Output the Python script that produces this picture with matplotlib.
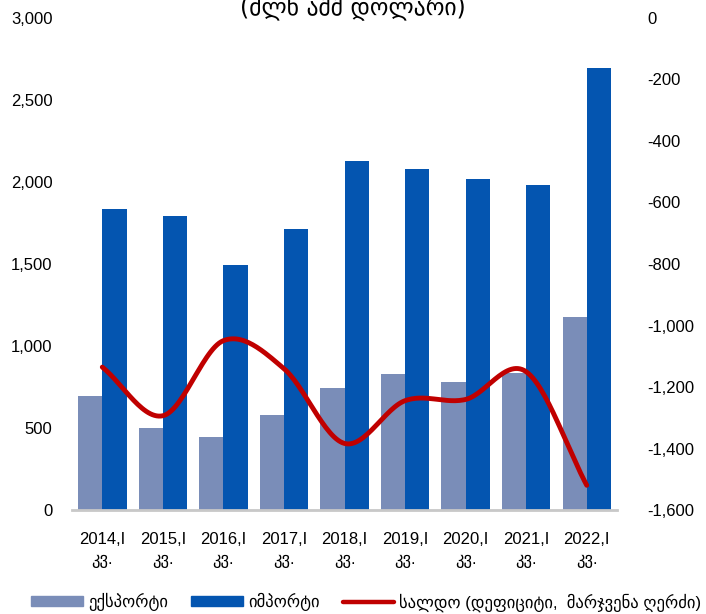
import numpy as np
import matplotlib
matplotlib.use("Agg")
import matplotlib.pyplot as plt
from matplotlib.ticker import FuncFormatter
from matplotlib.lines import Line2D
from matplotlib.patches import Patch

plt.rcParams['font.family'] = ['Liberation Sans', 'DejaVu Sans']

years = ["2014", "2015", "2016", "2017", "2018", "2019", "2020", "2021", "2022"]
export = [695, 500, 445, 580, 745, 830, 780, 835, 1177]
imports = [1835, 1793, 1494, 1713, 2128, 2079, 2018, 1982, 2695]
saldo = [-1135, -1293, -1049, -1140, -1383, -1244, -1240, -1150, -1519]

labels = [y + ",I\nკვ." for y in years]

export_color = "#7A8DB8"
import_color = "#0455B0"
line_color = "#C00000"


def smooth(x, y, n=30):
    # catmull-rom, roughly like excel's smoothed line
    x = np.asarray(x, float)
    y = np.asarray(y, float)
    px = np.concatenate([[2 * x[0] - x[1]], x, [2 * x[-1] - x[-2]]])
    py = np.concatenate([[2 * y[0] - y[1]], y, [2 * y[-1] - y[-2]]])
    xs, ys = [], []
    t = np.linspace(0, 1, n)
    for i in range(1, len(px) - 2):
        for arr, out in ((px, xs), (py, ys)):
            p0, p1, p2, p3 = arr[i - 1], arr[i], arr[i + 1], arr[i + 2]
            c = 0.5 * ((2 * p1) + (-p0 + p2) * t + (2 * p0 - 5 * p1 + 4 * p2 - p3) * t ** 2
                       + (-p0 + 3 * p1 - 3 * p2 + p3) * t ** 3)
            out.extend(c)
    return np.array(xs), np.array(ys)


fig = plt.figure(figsize=(7.06, 6.14), dpi=100)
ax = fig.add_axes([0.102, 0.169, 0.772, 0.802])
x = np.arange(len(years))
w = 0.4
ax.bar(x - w / 2, export, w, color=export_color, zorder=2)
ax.bar(x + w / 2, imports, w, color=import_color, zorder=2)
ax.set_ylim(0, 3000)
ax.set_xlim(-0.5, len(years) - 0.5)
ax.set_yticks(np.arange(0, 3001, 500))
ax.yaxis.set_major_formatter(FuncFormatter(lambda v, p: f"{v:,.0f}"))
ax.set_xticks(x)
ax.set_xticklabels(labels, fontsize=12, linespacing=1.35)
for s in ["top", "right", "left"]:
    ax.spines[s].set_visible(False)
ax.spines["bottom"].set_color("#C8C8C8")
ax.spines["bottom"].set_linewidth(2)
ax.tick_params(axis="both", length=0, labelsize=12)
ax.tick_params(axis="x", pad=16)
ax.tick_params(axis="y", pad=14)

ax2 = ax.twinx()
ax2.set_ylim(-1600, 0)
ax2.set_yticks(np.arange(-1600, 1, 200))
ax2.yaxis.set_major_formatter(FuncFormatter(lambda v, p: f"{v:,.0f}"))
sx, sy = smooth(x, saldo)
ax2.plot(sx, sy, color=line_color, lw=3.5, solid_capstyle="round", zorder=3)
for s in ["top", "right", "left", "bottom"]:
    ax2.spines[s].set_visible(False)
ax2.tick_params(axis="y", length=0, labelsize=12, pad=22)

fig.text(0.5, 0.988, "(მლნ აშშ დოლარი)", ha="center", va="center", fontsize=17,
         family=["DejaVu Sans"])

handles = [Patch(color=export_color), Patch(color=import_color),
           Line2D([0], [0], color=line_color, lw=3.2, solid_capstyle="round")]
names = ["ექსპორტი", "იმპორტი", "სალდო (დეფიციტი,  მარჯვენა ღერძი)"]
fig.legend(handles, names, loc="center", bbox_to_anchor=(0.519, 0.019), ncol=3,
           frameon=False, fontsize=12, handlelength=3.1, handleheight=0.55,
           columnspacing=1.4, handletextpad=0.3)

fig.savefig("out.png", dpi=100)
